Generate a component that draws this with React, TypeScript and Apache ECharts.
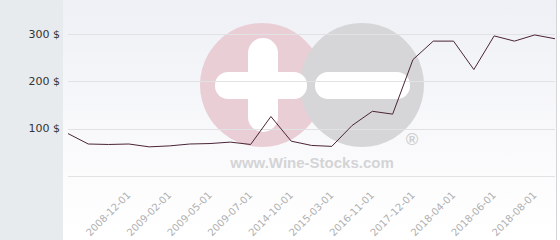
import React, { useEffect, useRef } from "react";
import * as echarts from "echarts";

const categories = [
  "2008-09-01", "2008-10-01", "2008-11-01", "2008-12-01", "2009-01-01",
  "2009-02-01", "2009-04-01", "2009-05-01", "2009-06-01", "2009-07-01",
  "2014-06-01", "2014-10-01", "2015-01-01", "2015-03-01", "2016-06-01",
  "2016-11-01", "2017-06-01", "2017-12-01", "2018-03-01", "2018-04-01",
  "2018-05-01", "2018-06-01", "2018-07-01", "2018-08-01", "2018-09-01",
];
const prices = [
  90, 68, 67, 68, 62, 64, 68, 69, 72, 67, 126, 74, 65, 63, 107, 137, 131,
  246, 285, 285, 225, 296, 285, 298, 290,
];
const yTicks = [0, 100, 200, 300];
const watermarkText = "www.Wine-Stocks.com";

export default function App() {
  const ref = useRef<HTMLDivElement>(null);
  useEffect(() => {
    if (!ref.current) return;
    const chart = echarts.init(ref.current, null, { renderer: "svg" });
    chart.setOption({
      animation: false,
      graphic: [
        { type: "rect", z: -20, silent: true, shape: { x: 0, y: 0, width: 63, height: 240 }, style: { fill: "#e7ebee" } },
        {
          type: "rect", z: -20, silent: true,
          shape: { x: 63, y: 0, width: 493, height: 240 },
          style: {
            fill: new echarts.graphic.LinearGradient(0, 0, 0, 1, [
              { offset: 0, color: "#eef0f5" },
              { offset: 0.75, color: "#fcfcfd" },
              { offset: 1, color: "#ffffff" },
            ]),
          },
        },
        { type: "line", z: -20, silent: true, shape: { x1: 556.5, y1: 0, x2: 556.5, y2: 240 }, style: { stroke: "#d4d6da", lineWidth: 1 } },
        // watermark
        { type: "circle", z: -10, silent: true, shape: { cx: 262, cy: 85, r: 62 }, style: { fill: "#e9ced5" } },
        { type: "circle", z: -10, silent: true, shape: { cx: 362, cy: 85, r: 62 }, style: { fill: "#d6d6d8" } },
        { type: "rect", z: -9, silent: true, shape: { x: 248, y: 38, width: 30, height: 94, r: 15 }, style: { fill: "#ffffff" } },
        { type: "rect", z: -9, silent: true, shape: { x: 215, y: 72, width: 92, height: 27, r: 13 }, style: { fill: "#ffffff" } },
        { type: "rect", z: -9, silent: true, shape: { x: 315, y: 72, width: 95, height: 27, r: 13 }, style: { fill: "#ffffff" } },
        {
          type: "text", z: -9, silent: true, x: 412, y: 139,
          style: { text: "®", fill: "#cfcfd1", font: "bold 17px 'Liberation Sans'", align: "center", verticalAlign: "middle" },
        },
        {
          type: "text", z: -9, silent: true, x: 312, y: 162,
          style: { text: watermarkText, fill: "#d4d4d6", font: "bold 15px 'Liberation Sans'", align: "center", verticalAlign: "middle" },
        },
      ],
      grid: { left: 68, right: 5, top: 34, bottom: 62, containLabel: false },
      xAxis: {
        type: "category",
        data: categories,
        boundaryGap: false,
        axisLine: { show: false },
        axisTick: { show: false },
        axisLabel: {
          rotate: 45,
          margin: 17,
          color: "#b0b0b0",
          fontSize: 10,
          fontFamily: "DejaVu Sans",
          interval: (i: number) => i % 2 === 1 && i >= 3,
        },
        splitLine: { show: false },
      },
      yAxis: {
        type: "value",
        min: yTicks[0],
        max: yTicks[yTicks.length - 1],
        interval: 100,
        axisLine: { show: false },
        axisTick: { show: false },
        axisLabel: {
          margin: 8,
          color: "#333333",
          fontSize: 11,
          fontFamily: "DejaVu Sans",
          formatter: (v: number) => (v === 0 ? "" : `${v} $`),
        },
        splitLine: { show: true, lineStyle: { color: "#e2e2e4", width: 1 } },
      },
      series: [
        {
          type: "line",
          data: prices,
          symbol: "none",
          lineStyle: { color: "#4a2436", width: 1 },
          z: 5,
        },
      ],
    });
    return () => chart.dispose();
  }, []);
  return <div ref={ref} style={{ width: 560, height: 240, position: "absolute", left: 0, top: 0 }} />;
}
